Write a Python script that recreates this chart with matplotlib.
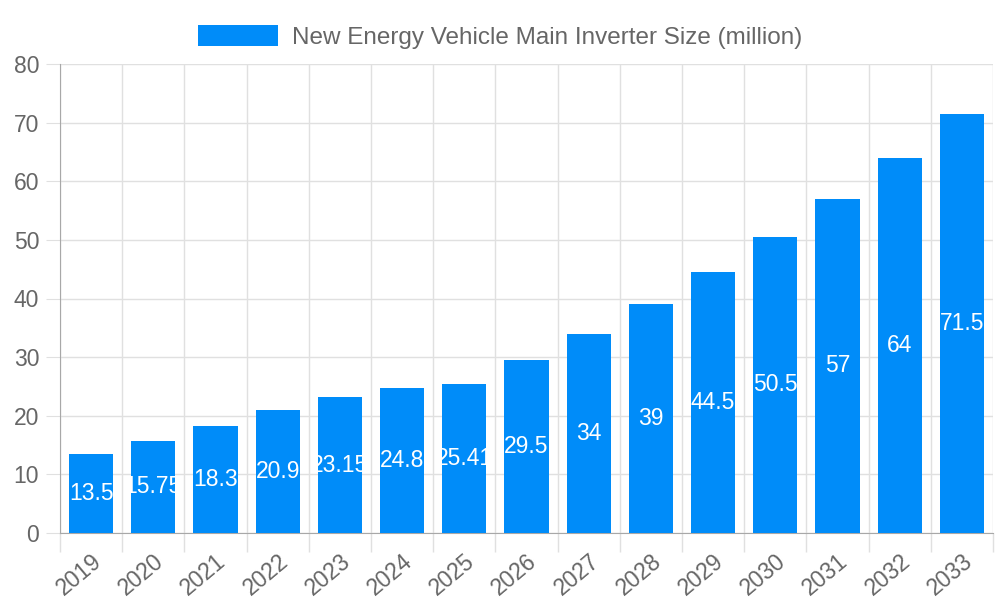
import matplotlib.pyplot as plt
import numpy as np

years = ['2019', '2020', '2021', '2022', '2023', '2024', '2025', '2026',
         '2027', '2028', '2029', '2030', '2031', '2032', '2033']
sizes = [13.5, 15.75, 18.3, 20.9, 23.15, 24.8, 25.41, 29.5,
         34, 39, 44.5, 50.5, 57, 64, 71.5]
legend_label = 'New Energy Vehicle Main Inverter Size (million)'

bar_color = '#008cf9'
text_color = '#666666'
grid_color = '#e0e0e0'

plt.rcParams['font.family'] = ['Liberation Sans', 'DejaVu Sans']

fig = plt.figure(figsize=(10, 6), dpi=100)
ax = fig.add_axes([0.06, 0.1117, 0.933, 0.7816])

x = np.arange(len(years))
bars = ax.bar(x, sizes, width=0.71, color=bar_color, label=legend_label, zorder=3)

# valeurs au milieu de chaque barre, coupées au bord de la barre
for rect, xi, v in zip(bars, x, sizes):
    t = ax.text(xi, v / 2, f'{v:g}', ha='center', va='center', color='white',
                fontsize=16.5, zorder=4)
    t.set_clip_path(rect)

ax.set_xlim(-0.5, len(years) - 0.5)
ax.set_ylim(0, 80)
ax.set_yticks(range(0, 81, 10))

# vertical grid lines at category borders
ax.set_xticks(x)
ax.set_xticklabels(years, rotation=40, ha='right', rotation_mode='anchor')
ax.set_xticks(np.arange(-0.5, len(years)), minor=True)
ax.tick_params(axis='x', which='major', length=0, pad=12, labelsize=16.5, labelcolor=text_color)
ax.tick_params(axis='x', which='minor', length=14, color=grid_color, width=1)
ax.tick_params(axis='y', length=10, color=grid_color, labelsize=16.5, labelcolor=text_color, pad=5)
ax.grid(True, axis='x', which='minor', color=grid_color, lw=1, zorder=0)
ax.grid(True, axis='y', which='major', color=grid_color, lw=1, zorder=0)

for side in ['top', 'right']:
    ax.spines[side].set_visible(False)
for side in ['left', 'bottom']:
    ax.spines[side].set_color('#a8a8a8')

leg = fig.legend(handles=[bars], labels=[legend_label], loc='upper center',
                 bbox_to_anchor=(0.5, 0.995), frameon=False, fontsize=17.5,
                 handlelength=3.3, handleheight=0.95, handletextpad=0.55,
                 labelcolor=text_color)

fig.savefig('out.png', dpi=100)
